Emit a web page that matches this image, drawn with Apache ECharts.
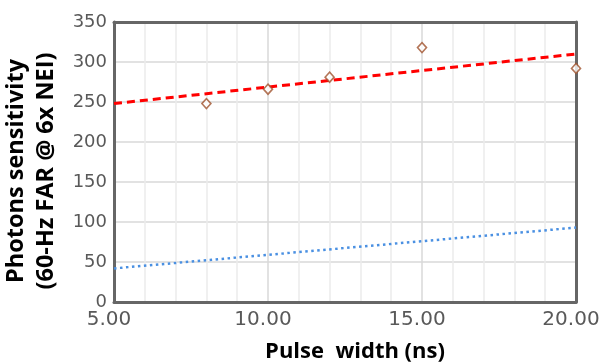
<!DOCTYPE html>
<html>
<head>
<meta charset="utf-8">
<script src="https://cdn.jsdelivr.net/npm/echarts@6/dist/echarts.min.js"></script>
<style>html,body{margin:0;padding:0;background:#fff}#c{width:600px;height:364px}</style>
</head>
<body>
<div id="c"></div>
<script>
// Data
var pulseWidths = [8, 10, 12, 15, 20];
var measured = [248, 266, 281, 318, 292];
var fitX = [5, 20];
var redFit = [248, 310];
var blueFit = [42, 93];

function pairs(xs, ys) { return xs.map(function (x, i) { return [x, ys[i]]; }); }

var frameLine = { show: true, onZero: false, lineStyle: { color: '#666', width: 3 } };

var chart = echarts.init(document.getElementById('c'), null, { renderer: 'canvas' });
chart.setOption({
  animation: false,
  grid: { left: 114, right: 24, top: 22, bottom: 62, containLabel: false, outerBoundsMode: 'none' },
  xAxis: [{
    type: 'value', min: 5, max: 20, interval: 5, position: 'bottom',
    name: 'Pulse  width (ns)', nameLocation: 'middle', nameGap: 39,
    nameTextStyle: { fontFamily: 'Open Sans', fontWeight: 'bold', fontSize: 22, color: '#000', padding: [0, 0, 0, 20] },
    axisLine: frameLine, axisTick: { show: false },
    axisLabel: { margin: 8, fontFamily: 'DejaVu Sans', fontSize: 20, color: '#595959', padding: [0, 10, 0, 0],
      formatter: function (v) { return v.toFixed(2); } },
    splitLine: { show: true, lineStyle: { color: '#d9d9d9', width: 1.5 } },
    minorTick: { show: false, splitNumber: 5 },
    minorSplitLine: { show: true, lineStyle: { color: '#ececec', width: 1.5 } }
  }, {
    type: 'value', min: 5, max: 20, interval: 5, position: 'top',
    axisLine: frameLine, axisTick: { show: false }, axisLabel: { show: false }, splitLine: { show: false }
  }],
  yAxis: [{
    type: 'value', min: 0, max: 350, interval: 50, position: 'left',
    name: 'Photons sensitivity\n(60-Hz FAR @ 6x NEI)', nameLocation: 'middle', nameGap: 45.5, nameRotate: 90,
    nameTextStyle: { fontFamily: 'Open Sans', fontWeight: 'bold', fontSize: 23.5, color: '#000', lineHeight: 30, padding: [0, 18, 0, 0] },
    axisLine: frameLine, axisTick: { show: false },
    axisLabel: { margin: 7, fontFamily: 'DejaVu Sans', fontSize: 18, color: '#595959' },
    splitLine: { show: true, lineStyle: { color: '#d9d9d9', width: 1.5 } }
  }, {
    type: 'value', min: 0, max: 350, interval: 50, position: 'right',
    axisLine: frameLine, axisTick: { show: false }, axisLabel: { show: false }, splitLine: { show: false }
  }],
  series: [
    { type: 'line', data: pairs(fitX, redFit), symbol: 'none',
      lineStyle: { color: '#ff0000', width: 3, type: [8, 5] }, z: 3 },
    { type: 'line', data: pairs(fitX, blueFit), symbol: 'none',
      lineStyle: { color: '#4a90e2', width: 2.5, type: [2.5, 3.5] }, z: 3 },
    { type: 'scatter', data: pairs(pulseWidths, measured), symbol: 'diamond', symbolSize: [9, 10],
      itemStyle: { color: '#fff', borderColor: '#a0522d', borderWidth: 1.6 }, z: 5 }
  ]
});
</script>
</body>
</html>
